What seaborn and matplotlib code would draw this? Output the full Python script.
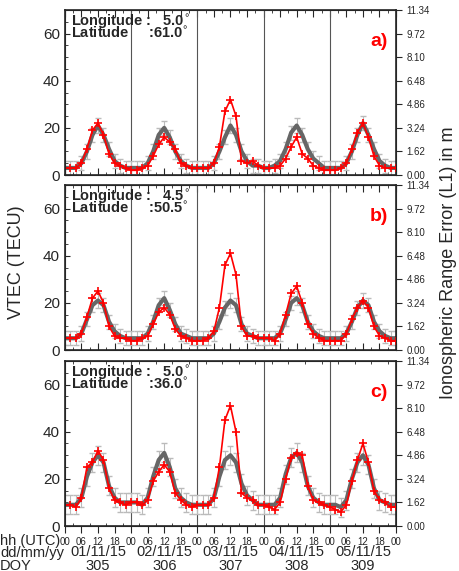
import numpy as np
import pandas as pd
import matplotlib.pyplot as plt
import seaborn as sns

# 2-hourly samples, 5 days (00..22 each day) plus final 00
hours = list(range(0, 122, 2))
days = ["01/11/15", "02/11/15", "03/11/15", "04/11/15", "05/11/15"]
doys = ["305", "306", "307", "308", "309"]
panel_tags = ["a)", "b)", "c)"]
longitudes = ["5.0", "4.5", "5.0"]
latitudes = ["61.0", "50.5", "36.0"]

gray_a = [3,3,3,5,10,17,21,17,11,6,4,3, 3,3,3,5,10,17,20,16,10,6,4,3, 3,3,3,5,10,16,21,17,10,6,4,4,
          3,3,4,6,11,18,21,17,11,7,5,3, 3,3,3,5,10,17,22,17,11,6,4,3, 3]
red_a = [3,3,3,5,11,19,22,17,9,5,4,3, 2,2,3,4,8,13,16,14,11,5,4,3, 3,3,3,5,12,27,32,25,6,5,6,4,
         3,3,3,4,7,12,16,9,7,4,3,2, 2,2,3,5,11,18,22,16,8,4,3,3, 3]
gray_b = [5,5,5,7,13,19,21,19,12,8,6,5, 5,5,5,7,12,19,22,17,11,7,6,5, 5,5,5,7,12,18,21,19,11,7,6,5,
          5,5,5,7,13,20,22,19,12,8,6,5, 5,5,5,7,12,18,21,19,12,8,6,5, 5]
red_b = [5,5,5,7,14,22,25,20,10,6,5,5, 4,4,5,6,11,16,18,15,9,6,5,4, 4,4,5,8,18,36,41,32,10,6,6,5,
         5,5,4,7,15,24,27,20,11,7,5,4, 4,4,4,7,13,18,21,18,10,6,5,4, 4]
gray_c = [9,9,9,12,21,27,30,27,17,12,10,10, 10,10,9,12,21,28,31,25,16,12,10,9, 9,9,9,12,21,28,30,27,18,13,11,9,
          9,9,9,12,22,29,31,27,17,12,10,9, 9,9,8,11,20,27,30,26,16,11,10,9, 9]
red_c = [9,9,8,12,25,27,32,28,16,11,10,9, 10,10,9,11,19,23,26,23,14,11,9,8, 9,9,9,12,25,45,51,40,14,12,11,9,
         9,8,7,10,20,29,31,30,17,11,10,9, 8,7,6,9,19,28,35,27,15,11,10,8, 8]
gray_err = [3, 3, 4]

grays = [gray_a, gray_b, gray_c]
reds = [red_a, red_b, red_c]

sns.set_style("ticks")
plt.rcParams['font.family'] = ['Liberation Sans', 'DejaVu Sans']
fig = plt.figure(figsize=(4.6, 5.71), dpi=100)

bottoms = [0.6935, 0.387, 0.0788]
for i in range(3):
    ax = fig.add_axes([0.141, bottoms[i], 0.72, 0.289])
    df = pd.DataFrame({"hour": hours, "gray": grays[i], "red": reds[i]})
    ax.errorbar(df["hour"], df["gray"], yerr=gray_err[i], color="#666666", ecolor="#bbbbbb",
                elinewidth=0.8, capsize=2.5, lw=3, zorder=2)
    ax.plot(df["hour"], df["red"], color="red", marker="+", markersize=6,
            markeredgewidth=1.2, lw=1.2, linestyle="-", zorder=3)
    for d in range(24, 120, 24):
        ax.axvline(d, color="#555555", lw=0.8, zorder=1)
    ax.set_xlim(0, 120)
    ax.set_ylim(0, 70)
    ax.set_yticks([0, 20, 40, 60])
    ax.set_yticks(range(0, 71, 5), minor=True)
    ax.set_xticks(range(0, 121, 6))
    ax.set_xticks(range(0, 121, 3), minor=True)
    ax.tick_params(top=True, which="both", direction="in", labelsize=11)
    ax.tick_params(axis="x", which="major", length=5)
    for s in ax.spines.values():
        s.set_linewidth(1.2)
    if i == 2:
        ax.set_xticklabels(["%02d" % (h % 24) for h in range(0, 121, 6)], fontsize=7)
        ax.tick_params(axis="x", which="major", direction="out", top=False, pad=3)
    else:
        ax.set_xticklabels([])
    ax.text(0.02, 0.985, "Longitude :   " + longitudes[i] + "$^{\\circ}$", transform=ax.transAxes,
            fontsize=10.5, fontweight="bold", va="top")
    ax.text(0.02, 0.905, "Latitude     :" + latitudes[i] + "$^{\\circ}$", transform=ax.transAxes,
            fontsize=10.5, fontweight="bold", va="top")
    ax.text(0.975, 0.86, panel_tags[i], transform=ax.transAxes, color="red",
            fontsize=14, fontweight="bold", ha="right", va="top")
    ax2 = ax.twinx()
    ax2.set_ylim(0, 11.34)
    ax2.set_yticks([0, 1.62, 3.24, 4.86, 6.48, 8.10, 9.72, 11.34])
    ax2.set_yticklabels(["0.00", "1.62", "3.24", "4.86", "6.48", "8.10", "9.72", "11.34"], fontsize=7)
    ax2.tick_params(direction="out", length=4)
    if i == 2:
        for d in range(5):
            ax.text(12 + 24 * d, -11, days[d], ha="center", va="center", fontsize=10.5)
            ax.text(12 + 24 * d, -17, doys[d], ha="center", va="center", fontsize=10.5)

fig.text(0.0, 0.053, "hh (UTC)", fontsize=10.5, va="center")
fig.text(0.0, 0.032, "dd/mm/yy", fontsize=10.5, va="center")
fig.text(0.0, 0.009, "DOY", fontsize=10.5, va="center")
fig.text(0.035, 0.54, "VTEC (TECU)", rotation=90, fontsize=13, ha="center", va="center")
fig.text(0.975, 0.54, "Ionospheric Range Error (L1) in m", rotation=90, fontsize=13,
         ha="center", va="center")

fig.savefig("out.png", dpi=100)
